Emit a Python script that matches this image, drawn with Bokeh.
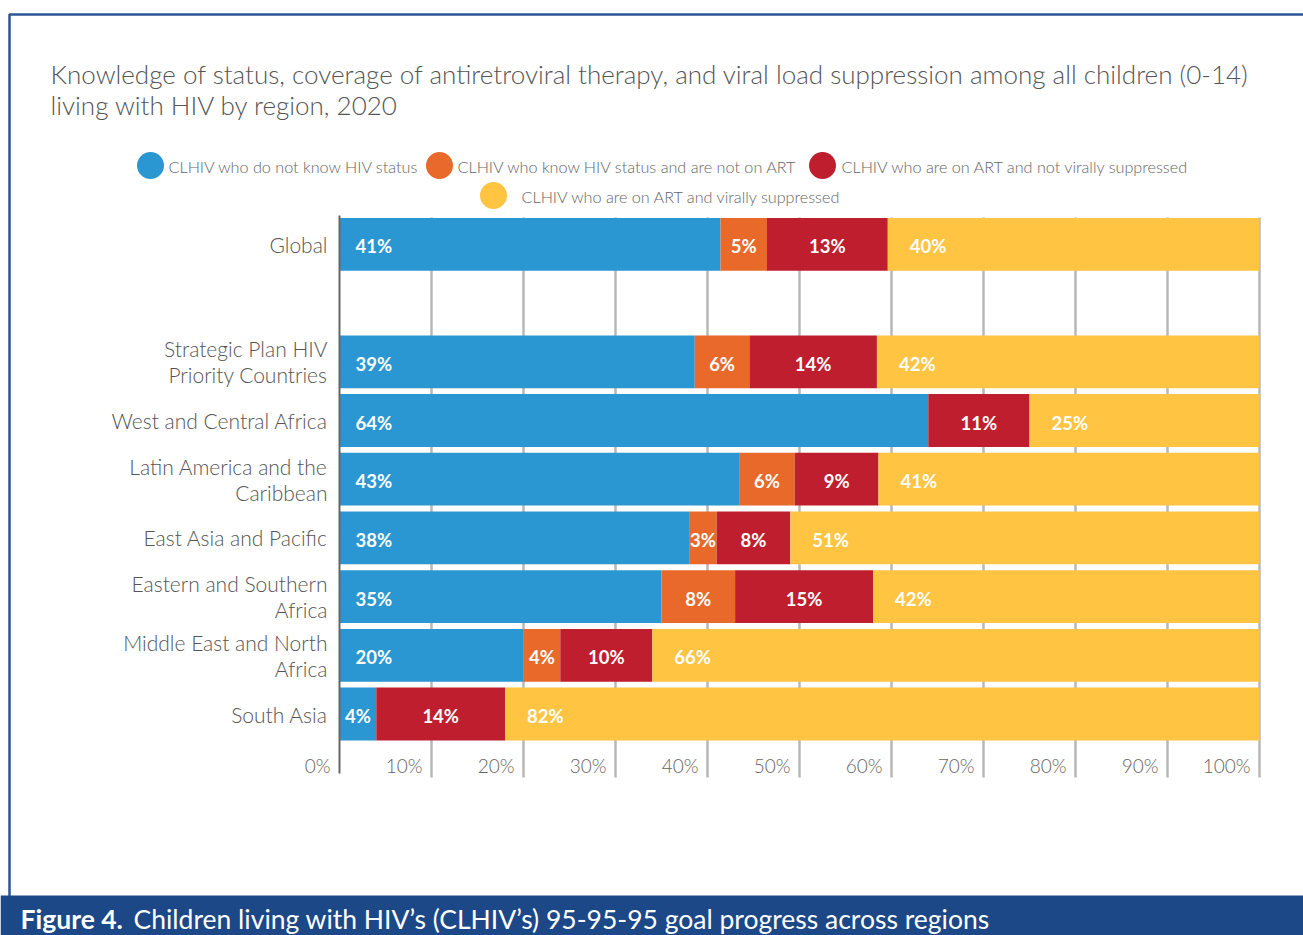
from bokeh.plotting import figure
from bokeh.models import Range1d, LinearAxis, FixedTicker, BoxAnnotation
from bokeh.core.properties import value
from bokeh.embed import file_html
from bokeh.resources import INLINE

# ---------------- data ----------------
regions = [
    "Global",
    "Strategic Plan HIV\nPriority Countries",
    "West and Central Africa",
    "Latin America and the\nCaribbean",
    "East Asia and Pacific",
    "Eastern and Southern\nAfrica",
    "Middle East and North\nAfrica",
    "South Asia",
]
unknown_status = [41, 39, 64, 43, 38, 35, 20, 4]
know_not_on_art = [5, 6, 0, 6, 3, 8, 4, 0]
on_art_not_suppressed = [13, 14, 11, 9, 8, 15, 10, 14]
on_art_suppressed = [40, 42, 25, 41, 51, 42, 66, 82]

series_names = [
    "CLHIV who do not know HIV status",
    "CLHIV who know HIV status and are not on ART",
    "CLHIV who are on ART and not virally suppressed",
    "CLHIV who are on ART and virally suppressed",
]
colors = ["#2a96d2", "#e8692a", "#be1e2e", "#fec442"]

x_ticks = [0, 10, 20, 30, 40, 50, 60, 70, 80, 90, 100]
x_tick_labels = ["0%", "10%", "20%", "30%", "40%", "50%", "60%", "70%", "80%", "90%", "100%"]
grid_ticks = [10, 20, 30, 40, 50, 60, 70, 80, 90, 100]

title_lines = [
    "Knowledge of status, coverage of antiretroviral therapy, and viral load suppression among all children (0-14)",
    "living with HIV by region, 2020",
]
footer_bold = "Figure 4."
footer_text = "Children living with HIV\u2019s (CLHIV\u2019s) 95-95-95 goal progress across regions"

# ---------------- layout helpers (canvas pixels -> data) ----------------
W, H = 1303, 935
X0_PX, X_SCALE = 339.0, 9.2      # 0% position and px per %
Y1_PX, Y_SCALE = 713.5, 58.7     # row-1 centre and px per row


def xd(px):
    return (px - X0_PX) / X_SCALE


def yd(py):
    return 1 - (py - Y1_PX) / Y_SCALE


y_pos = [9, 7, 6, 5, 4, 3, 2, 1]

LIGHT = "Lato Light"
FONT_L = value(LIGHT)
FONT_B = value("Lato")

p = figure(
    width=W, height=H,
    x_range=Range1d(xd(0), xd(W)),
    y_range=Range1d(yd(H), yd(0)),
    x_axis_location=None, y_axis_location=None,
    toolbar_location=None, output_backend="svg",
    min_border=0, outline_line_color=None,
    background_fill_color="white", border_fill_color="white",
)
p.grid.grid_line_color = None

# outer frame and footer band
p.add_layout(BoxAnnotation(left=xd(9), right=xd(1330), top=yd(14), bottom=yd(910),
                           fill_alpha=0, line_color="#2b5597", line_alpha=1, line_width=2.5))
p.add_layout(BoxAnnotation(left=None, right=None, top=yd(895), bottom=None,
                           fill_color="#1c4888", fill_alpha=1, line_color=None))

# vertical gridlines
p.segment(x0=grid_ticks, x1=grid_ticks,
          y0=[yd(777)] * len(grid_ticks), y1=[yd(217)] * len(grid_ticks),
          line_color="#b8b8b8", line_width=2.5)

# bars
series = [unknown_status, know_not_on_art, on_art_not_suppressed, on_art_suppressed]
totals = [sum(r) for r in zip(*series)]
left = [0.0] * len(regions)
for k, vals in enumerate(series):
    widths = [v / t * 100 for v, t in zip(vals, totals)]
    right = [l + w for l, w in zip(left, widths)]
    p.hbar(y=y_pos, left=left, right=right, height=0.9,
           fill_color=colors[k], line_color=None)

    la_x, la_y, la_t, la_off = [], [], [], []
    c_x, c_y, c_t = [], [], []
    for i, v in enumerate(vals):
        if v == 0:
            continue
        lab = f"{v}%"
        if k == 0 and widths[i] >= 8:
            la_x.append(left[i]); la_y.append(y_pos[i]); la_t.append(lab); la_off.append(16)
        elif k == 3:
            la_x.append(left[i]); la_y.append(y_pos[i]); la_t.append(lab); la_off.append(22)
        else:
            c_x.append((left[i] + right[i]) / 2); c_y.append(y_pos[i]); c_t.append(lab)
    common = dict(text_baseline="middle", text_color="white", text_font=FONT_B,
                  text_font_style="bold", text_font_size="18.5px", y_offset=2)
    if la_x:
        p.text(x=la_x, y=la_y, text=la_t, x_offset=la_off, text_align="left", **common)
    if c_x:
        p.text(x=c_x, y=c_y, text=c_t, text_align="center", **common)
    left = right

# y axis with region names
yaxis = LinearAxis(
    fixed_location=0,
    ticker=FixedTicker(ticks=y_pos),
    major_label_overrides=dict(zip(y_pos, regions)),
    bounds=(yd(773), yd(215)),
    axis_line_color="#666666", axis_line_width=2,
    major_tick_line_color=None, minor_tick_line_color=None,
    major_label_standoff=6,
    major_label_text_font=LIGHT, major_label_text_font_size="21px",
    major_label_text_color="#555555", major_label_text_line_height=1.03,
)
p.add_layout(yaxis, "left")

# x tick labels (right-aligned just left of each gridline)
p.text(x=x_ticks, y=[yd(765)] * len(x_ticks), text=x_tick_labels,
       text_align="right", text_baseline="middle", x_offset=-9,
       text_color="#666666", text_font=FONT_L, text_font_size="19px")

# title
p.text(x=[xd(50)] * 2, y=[yd(73), yd(104)], text=title_lines,
       text_align="left", text_baseline="middle",
       text_color="#555555", text_font=FONT_L, text_font_size="26px")

# legend (manual)
leg_px = [(150, 165), (439, 165), (822, 165), (493, 195)]
leg_gap = [18, 18, 19, 28]
p.scatter(x=[xd(a) for a, b in leg_px], y=[yd(b) for a, b in leg_px],
          size=27, fill_color=colors, line_color=None)
p.text(x=[xd(a) for a, b in leg_px], y=[yd(b + 1) for a, b in leg_px], text=series_names,
       x_offset=leg_gap, text_align="left", text_baseline="middle",
       text_color="#666666", text_font=FONT_L, text_font_size="16.2px")

# footer caption (drawn above the band annotation)
p.text(x=[xd(20)], y=[yd(918)], text=[footer_bold], text_align="left", text_baseline="middle",
       text_color="white", text_font=FONT_B, text_font_style="bold", text_font_size="26.5px",
       level="overlay")
p.text(x=[xd(133)], y=[yd(918)], text=[footer_text], text_align="left", text_baseline="middle",
       text_color="white", text_font=FONT_B, text_font_size="26.5px", level="overlay")

open("out.html", "w").write(file_html(p, INLINE))
